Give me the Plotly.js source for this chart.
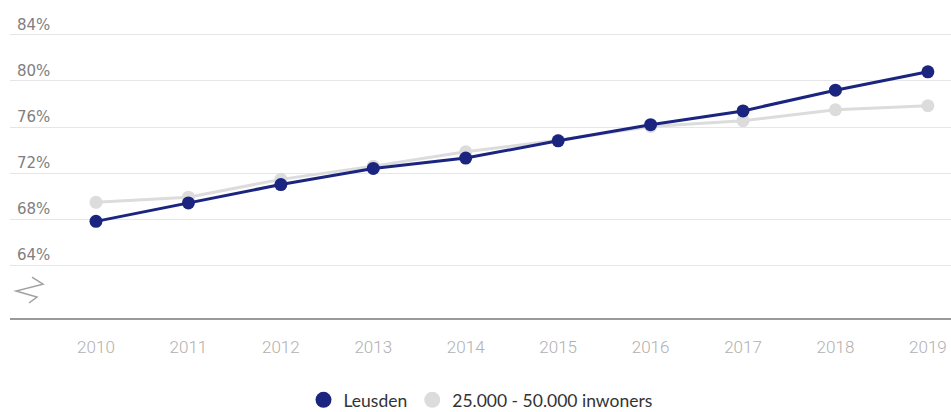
<!DOCTYPE html>
<html>
<head>
<meta charset="utf-8">
<script src="https://cdn.plot.ly/plotly-3.0.1.min.js"></script>
<style>html,body{margin:0;padding:0;background:#fff;}#chart{width:951px;height:412px;}</style>
</head>
<body>
<div id="chart"></div>
<script>
const years = [2010, 2011, 2012, 2013, 2014, 2015, 2016, 2017, 2018, 2019];
const leusden = [67.8, 69.4, 71.0, 72.4, 73.3, 74.8, 76.2, 77.4, 79.2, 80.8];
const group = [69.45, 69.9, 71.45, 72.6, 73.85, 74.85, 76.05, 76.55, 77.5, 77.85];
const seriesNames = ['Leusden', '25.000 - 50.000 inwoners'];
const yTicks = [64, 68, 72, 76, 80, 84];
const yTickText = ['64%', '68%', '72%', '76%', '80%', '84%'];

const blue = '#1b2580';
const grey = '#dcdcdc';

const traces = [
  {x: years, y: group, mode: 'lines+markers', name: seriesNames[1], showlegend: false,
   line: {color: grey, width: 3}, marker: {color: grey, size: 13}},
  {x: years, y: leusden, mode: 'lines+markers', name: seriesNames[0], showlegend: false,
   line: {color: blue, width: 3}, marker: {color: blue, size: 13}},
  {x: [null], y: [null], mode: 'markers', name: seriesNames[0], marker: {color: blue, size: 16}},
  {x: [null], y: [null], mode: 'markers', name: seriesNames[1], marker: {color: grey, size: 16}}
];

const layout = {
  width: 951, height: 412,
  margin: {l: 10, r: 0, t: 10, b: 94, autoexpand: false},
  paper_bgcolor: '#fff', plot_bgcolor: '#fff',
  showlegend: true,
  legend: {orientation: 'h', x: 0.5, xanchor: 'center', y: -0.266, yanchor: 'middle',
           font: {family: 'Lato, "Open Sans", sans-serif', size: 17.5, color: '#333'},
           itemwidth: 30, tracegroupgap: 0, traceorder: 'normal'},
  xaxis: {range: [2009.07, 2019.25], tickvals: years, ticktext: years.map(String),
          showgrid: false, zeroline: false, showline: true, linecolor: '#9a9a9a', linewidth: 2,
          ticks: '', ticklabelstandoff: 13, automargin: false,
          tickfont: {family: 'Roboto, sans-serif', size: 17, color: '#b0b0b0', weight: 300},
          fixedrange: true},
  yaxis: {range: [59.4, 86.17], tickvals: yTicks, ticktext: yTickText,
          showgrid: true, gridcolor: '#e6e6e6', gridwidth: 1, zeroline: false, showline: false,
          ticks: '', ticklabelposition: 'inside top', ticklabelstandoff: 4, automargin: false,
          tickfont: {family: '"DejaVu Sans", sans-serif', size: 15, color: '#808080'},
          fixedrange: true},
  shapes: [{
    type: 'path', xref: 'paper', yref: 'paper',
    path: 'M 0.0234 0.133 L 0.0351 0.110 L 0.0064 0.0877 L 0.0287 0.068 L 0.0202 0.0487',
    line: {color: '#a0a0a0', width: 1.5}
  }]
};

Plotly.newPlot('chart', traces, layout, {displayModeBar: false, staticPlot: true});
</script>
</body>
</html>
